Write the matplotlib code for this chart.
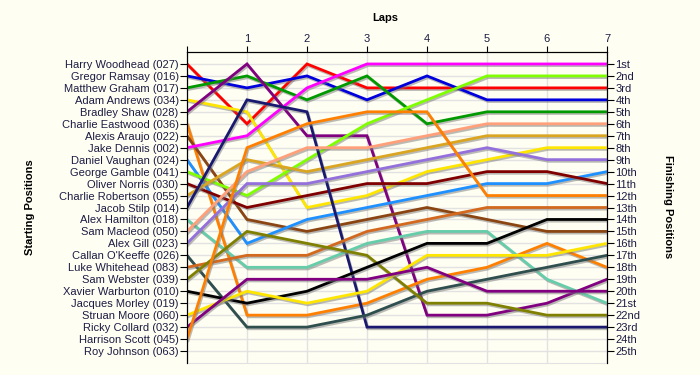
import matplotlib.pyplot as plt
import matplotlib.patheffects as pe

plt.rcParams['font.family'] = ['Liberation Sans', 'DejaVu Sans']

plot_fname = "out.png"

laps = [0, 1, 2, 3, 4, 5, 6, 7]

# grid order (starting positions 1..25)
drivers = [
    "Harry Woodhead (027)", "Gregor Ramsay (016)", "Matthew Graham (017)",
    "Adam Andrews (034)", "Bradley Shaw (028)", "Charlie Eastwood (036)",
    "Alexis Araujo (022)", "Jake Dennis (002)", "Daniel Vaughan (024)",
    "George Gamble (041)", "Oliver Norris (030)", "Charlie Robertson (055)",
    "Jacob Stilp (014)", "Alex Hamilton (018)", "Sam Macleod (050)",
    "Alex Gill (023)", "Callan O'Keeffe (026)", "Luke Whitehead (083)",
    "Sam Webster (039)", "Xavier Warburton (010)", "Jacques Morley (019)",
    "Struan Moore (060)", "Ricky Collard (032)", "Harrison Scott (045)",
    "Roy Johnson (063)",
]

# position at the end of each lap (lap 0 = grid); Morley and Johnson have no laps
positions = {
    "Harry Woodhead (027)":    [1, 6, 1, 3, 3, 3, 3, 3],
    "Gregor Ramsay (016)":     [2, 3, 2, 4, 2, 4, 4, 4],
    "Matthew Graham (017)":    [3, 2, 4, 2, 6, 5, 5, 5],
    "Adam Andrews (034)":      [4, 5, 13, 12, 10, 9, 8, 8],
    "Bradley Shaw (028)":      [5, 1, 7, 7, 22, 22, 21, 19],
    "Charlie Eastwood (036)":  [6, 22, 22, 21, 19, 18, 16, 18],
    "Alexis Araujo (022)":     [7, 14, 15, 14, 13, 14, 15, 15],
    "Jake Dennis (002)":       [8, 7, 3, 1, 1, 1, 1, 1],
    "Daniel Vaughan (024)":    [9, 16, 14, 13, 12, 11, 11, 10],
    "George Gamble (041)":     [10, 12, 9, 6, 4, 2, 2, 2],
    "Oliver Norris (030)":     [11, 13, 12, 11, 11, 10, 10, 11],
    "Charlie Robertson (055)": [12, 9, 10, 9, 8, 7, 7, 7],
    "Jacob Stilp (014)":       [13, 4, 5, 23, 23, 23, 23, 23],
    "Alex Hamilton (018)":     [14, 18, 18, 16, 15, 15, 19, 21],
    "Sam Macleod (050)":       [15, 10, 8, 8, 7, 6, 6, 6],
    "Alex Gill (023)":         [16, 11, 11, 10, 9, 8, 9, 9],
    "Callan O'Keeffe (026)":   [17, 23, 23, 22, 20, 19, 18, 17],
    "Luke Whitehead (083)":    [18, 17, 17, 15, 14, 13, 13, 13],
    "Sam Webster (039)":       [19, 15, 16, 17, 21, 21, 22, 22],
    "Xavier Warburton (010)":  [20, 21, 20, 18, 16, 16, 14, 14],
    "Struan Moore (060)":      [22, 20, 21, 20, 17, 17, 17, 16],
    "Ricky Collard (032)":     [23, 19, 19, 19, 18, 20, 20, 20],
    "Harrison Scott (045)":    [24, 8, 6, 5, 5, 12, 12, 12],
}

colours = {
    "Harry Woodhead (027)": "#ff0000",
    "Gregor Ramsay (016)": "#0000dd",
    "Matthew Graham (017)": "#009a00",
    "Adam Andrews (034)": "#ffe600",
    "Bradley Shaw (028)": "#800080",
    "Charlie Eastwood (036)": "#ff8000",
    "Alexis Araujo (022)": "#8b4513",
    "Jake Dennis (002)": "#ff00ff",
    "Daniel Vaughan (024)": "#1e90ff",
    "George Gamble (041)": "#7fff00",
    "Oliver Norris (030)": "#800000",
    "Charlie Robertson (055)": "#daa520",
    "Jacob Stilp (014)": "#191970",
    "Alex Hamilton (018)": "#66cdaa",
    "Sam Macleod (050)": "#ffa07a",
    "Alex Gill (023)": "#9370db",
    "Callan O'Keeffe (026)": "#2f4f4f",
    "Luke Whitehead (083)": "#d2691e",
    "Sam Webster (039)": "#808000",
    "Xavier Warburton (010)": "#000000",
    "Struan Moore (060)": "#ffe600",
    "Ricky Collard (032)": "#800080",
    "Harrison Scott (045)": "#ff8000",
}


def ordinal(n):
    if 10 <= n % 100 <= 20:
        suffix = "th"
    else:
        suffix = {1: "st", 2: "nd", 3: "rd"}.get(n % 10, "th")
    return str(n) + suffix


bg = "#fffef2"
text_col = "#1c1c44"
grid_col = "#e2e2e2"
n = len(drivers)

fig = plt.figure(figsize=(7, 3.75), dpi=100, facecolor=bg)
ax = fig.add_axes([187 / 700, 12 / 375, 420 / 700, 311 / 375])
ax.set_facecolor(bg)

shadow = [pe.SimpleLineShadow(offset=(0.8, -1.2), shadow_color="#777777", alpha=0.5),
          pe.Normal()]

for name, pos in positions.items():
    ax.plot(laps, pos, color=colours[name], lw=2, path_effects=shadow,
            solid_joinstyle="miter", zorder=3)

ax.set_xlim(0, 7)
ax.set_ylim(n + 1, 0)

# laps along the top
ax.xaxis.tick_top()
ax.set_xticks(laps)
ax.set_xticklabels([""] + [str(l) for l in laps[1:]])
ax.tick_params(axis="x", direction="out", length=4, pad=2, labelsize=8,
               labelcolor=text_col)

ax.set_yticks(range(1, n + 1))
ax.set_yticklabels(drivers)
ax.tick_params(axis="y", direction="out", length=5, pad=1, labelsize=8,
               labelcolor=text_col)

ax.grid(True, color=grid_col, lw=1, zorder=0)
ax.set_axisbelow(True)
ax.spines["bottom"].set_color(grid_col)

ax2 = ax.twinx()
ax2.set_ylim(n + 1, 0)
ax2.set_yticks(range(1, n + 1))
ax2.set_yticklabels([ordinal(i) for i in range(1, n + 1)])
ax2.tick_params(axis="y", direction="out", length=5, pad=1, labelsize=8,
                labelcolor=text_col)
ax2.spines["bottom"].set_visible(False)

fig.text(385 / 700, 1 - 18 / 375, "Laps", ha="center", va="center",
         fontsize=8, fontweight="bold")
fig.text(30 / 700, 1 - 207 / 375, "Starting Positions", ha="center",
         va="center", rotation=90, fontsize=8, fontweight="bold")
fig.text(668 / 700, 1 - 207 / 375, "Finishing Positions", ha="center",
         va="center", rotation=270, fontsize=8, fontweight="bold")

plt.savefig(plot_fname, dpi=100, facecolor=bg)
